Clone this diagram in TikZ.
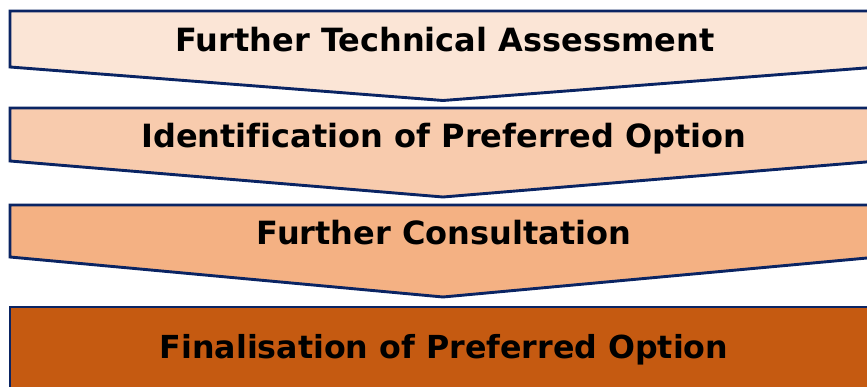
\documentclass[tikz,border=0pt]{standalone}
\usepackage{fontspec}
\setmainfont[Ligatures=NoCommon]{DejaVu Sans}
\definecolor{navy}{HTML}{0A2463}
\definecolor{fillA}{HTML}{FBE5D6}
\definecolor{fillB}{HTML}{F8CBAD}
\definecolor{fillC}{HTML}{F4B183}
\definecolor{fillD}{HTML}{C55A11}
\tikzset{
  stage/.style={draw=navy, line width=2.9pt, line join=miter},
  label/.style={font=\fontsize{32}{36}\selectfont\bfseries, text=black, inner sep=0pt, anchor=base}
}
\begin{document}
\begin{tikzpicture}[x=1pt,y=-1pt]
\useasboundingbox (0,0) rectangle (867,387);
\clip (0,0) rectangle (867,387);
\fill[white] (0,0) rectangle (867,387);
% stage 1
\filldraw[stage, fill=fillA] (10,11) -- (878,11) -- (878,67) -- (443,100.5) -- (10,67) -- cycle;
% stage 2
\filldraw[stage, fill=fillB] (10,108) -- (878,108) -- (878,161) -- (443,197) -- (10,161) -- cycle;
% stage 3
\filldraw[stage, fill=fillC] (10,205) -- (878,205) -- (878,257) -- (443,297) -- (10,257) -- cycle;
% stage 4
\filldraw[stage, fill=fillD] (10,307) -- (878,307) -- (878,400) -- (10,400) -- cycle;
\node[label] (t1) at (445,51.7) {Further Technical Assessment};
\node[label] (t2) at (444,147.3) {Identification of Preferred Option};
\node[label] (t3) at (444,245) {Further Consultation};
\node[label] (t4) at (444,358.3) {\fontsize{31.7}{36}\selectfont Finalisation of Preferred Option};
\end{tikzpicture}
\end{document}
